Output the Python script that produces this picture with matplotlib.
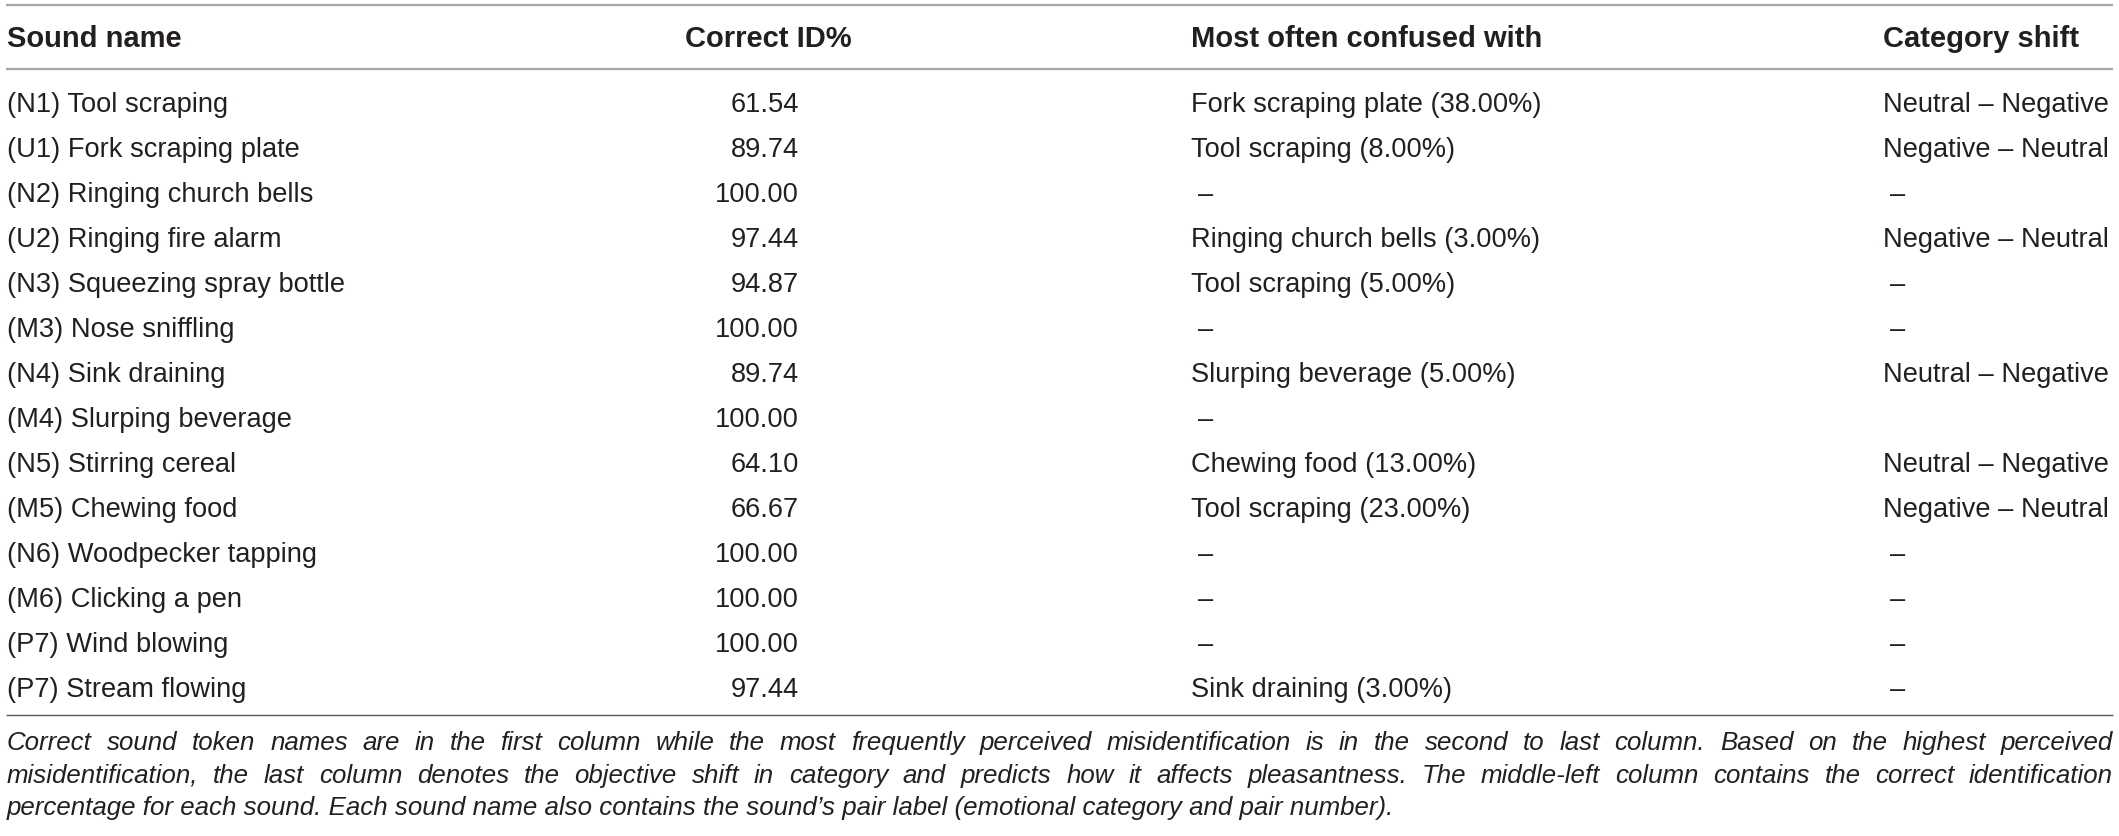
import matplotlib
matplotlib.use('Agg')
import matplotlib.pyplot as plt

# Table content
headers = ['Sound name', 'Correct ID%', 'Most often confused with', 'Category shift']

sound_names = ['(N1) Tool scraping', '(U1) Fork scraping plate', '(N2) Ringing church bells',
               '(U2) Ringing fire alarm', '(N3) Squeezing spray bottle', '(M3) Nose sniffling',
               '(N4) Sink draining', '(M4) Slurping beverage', '(N5) Stirring cereal',
               '(M5) Chewing food', '(N6) Woodpecker tapping', '(M6) Clicking a pen',
               '(P7) Wind blowing', '(P7) Stream flowing']

correct_id = [61.54, 89.74, 100.00, 97.44, 94.87, 100.00, 89.74,
              100.00, 64.10, 66.67, 100.00, 100.00, 100.00, 97.44]

confused_with = ['Fork scraping plate (38.00%)', 'Tool scraping (8.00%)', '–',
                 'Ringing church bells (3.00%)', 'Tool scraping (5.00%)', '–',
                 'Slurping beverage (5.00%)', '–', 'Chewing food (13.00%)',
                 'Tool scraping (23.00%)', '–', '–', '–', 'Sink draining (3.00%)']

category_shift = ['Neutral – Negative', 'Negative – Neutral', '–', 'Negative – Neutral',
                  '–', '–', 'Neutral – Negative', '', 'Neutral – Negative',
                  'Negative – Neutral', '–', '–', '–', '–']

caption_lines = [
    'Correct sound token names are in the first column while the most frequently perceived '
    'misidentification is in the second to last column. Based on the highest perceived',
    'misidentification, the last column denotes the objective shift in category and predicts '
    'how it affects pleasantness. The middle-left column contains the correct identification',
    'percentage for each sound. Each sound name also contains the sound\u2019s pair label '
    '(emotional category and pair number).',
]

W, H = 2119, 837
FONT = 'Liberation Sans'
TXT = '#231f20'

fig = plt.figure(figsize=(W / 100, H / 100), dpi=100)
ax = fig.add_axes([0, 0, 1, 1])
ax.set_xlim(0, W)
ax.set_ylim(H, 0)
ax.axis('off')

# layout (pixels)
left, right = 6, 2113
col1_x = 7
col2_right = 799
col2_head = 685
col3_x = 1191
col4_x = 1883
dash_shift = 7
head_base = 47
row0_base = 112
row_h = 45

#Rules
ax.plot([left, right], [6, 6], color='#a6a6a6', lw=1.6, solid_capstyle='butt')
ax.plot([left, right], [70, 70], color='#a6a6a6', lw=1.6, solid_capstyle='butt')
ax.plot([left, right], [716, 716], color='#555555', lw=1.0, solid_capstyle='butt')

#Header
hkw = dict(family=FONT, fontsize=21, fontweight='bold', color=TXT, va='baseline')
ax.text(col1_x, head_base, headers[0], ha='left', **hkw)
ax.text(col2_head, head_base, headers[1], ha='left', **hkw)
ax.text(col3_x, head_base, headers[2], ha='left', **hkw)
ax.text(col4_x, head_base, headers[3], ha='left', **hkw)

#Body
bkw = dict(family=FONT, fontsize=19.6, color=TXT, va='baseline')
for i, name in enumerate(sound_names):
    y = row0_base + i * row_h
    ax.text(col1_x, y, name, ha='left', **bkw)
    ax.text(col2_right, y, f'{correct_id[i]:.2f}', ha='right', **bkw)
    c3 = confused_with[i]
    ax.text(col3_x + (dash_shift if c3 == '–' else 0), y, c3, ha='left', **bkw)
    c4 = category_shift[i]
    ax.text(col4_x + (dash_shift if c4 == '–' else 0), y, c4, ha='left', **bkw)

#Caption, justified like the source
ckw = dict(family=FONT, fontsize=18.6, style='italic', color=TXT, va='baseline', ha='left')
cap_base = [750, 783, 815]
renderer = fig.canvas.get_renderer()
for k, line in enumerate(caption_lines):
    y = cap_base[k]
    if k == len(caption_lines) - 1:
        ax.text(col1_x, y, line, **ckw)
        continue
    words = line.split(' ')
    arts = [ax.text(0, y, w, **ckw) for w in words]
    widths = [a.get_window_extent(renderer).width for a in arts]
    gap = (right - col1_x - sum(widths)) / (len(words) - 1)
    x = col1_x
    for a, wd in zip(arts, widths):
        a.set_x(x)
        x += wd + gap

plt.savefig('out.png', dpi=100)
